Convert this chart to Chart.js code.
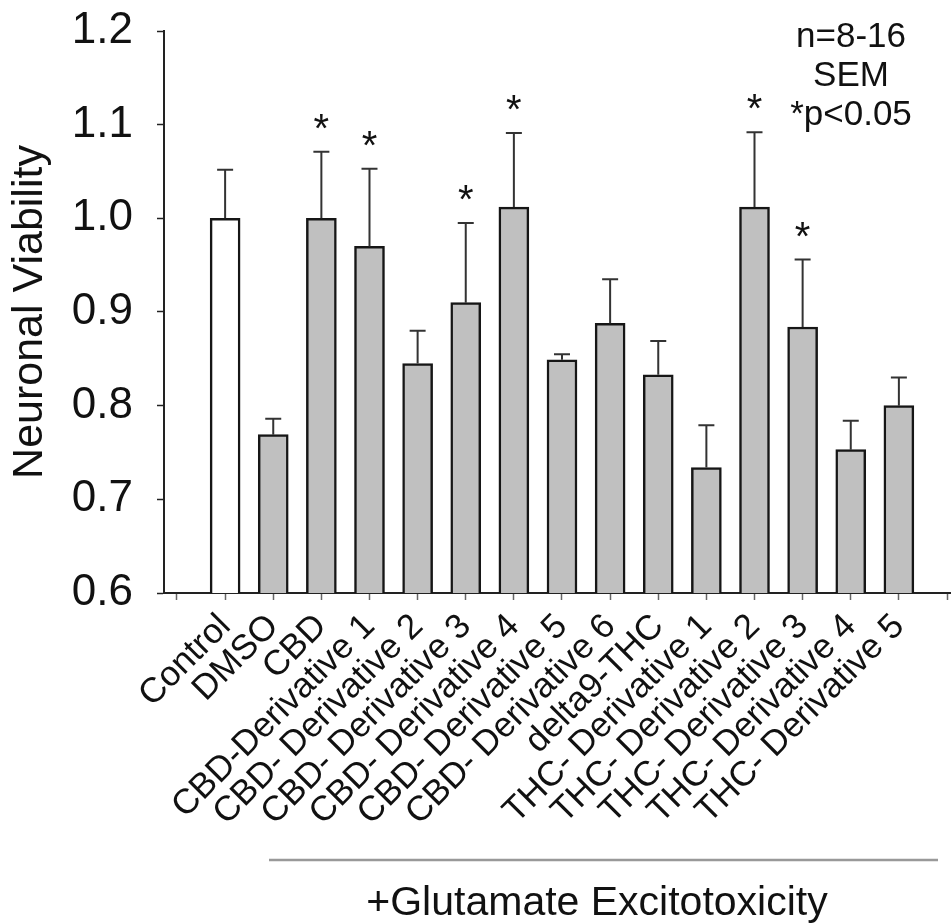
<!DOCTYPE html>
<html>
<head>
<meta charset="utf-8">
<script src="https://cdn.jsdelivr.net/npm/chart.js@4/dist/chart.umd.min.js"></script>
<style>
  body { margin: 0; background: #fff; }
  #wrap { width: 951px; height: 924px; position: relative; }
</style>
</head>
<body>
<div id="wrap"><canvas id="viability-chart"></canvas></div>
<script>
var CATEGORIES = [
  'Control', 'DMSO', 'CBD', 'CBD-Derivative 1', 'CBD- Derivative 2',
  'CBD- Derivative 3', 'CBD- Derivative 4', 'CBD- Derivative 5',
  'CBD- Derivative 6', 'delta9-THC', 'THC- Derivative 1',
  'THC- Derivative 2', 'THC- Derivative 3', 'THC- Derivative 4',
  'THC- Derivative 5',
];
var VIABILITY = [1.000, 0.769, 1.000, 0.970, 0.845, 0.910, 1.012, 0.849, 0.888, 0.833, 0.734, 1.012, 0.884, 0.753, 0.800];
var SEM = [0.052, 0.017, 0.071, 0.083, 0.035, 0.085, 0.079, 0.006, 0.047, 0.036, 0.045, 0.080, 0.072, 0.031, 0.030];
var SIGNIFICANT = [false, false, true, true, false, true, true, false, false, false, false, true, true, false, false];
var Y_TICKS = [0.6, 0.7, 0.8, 0.9, 1.0, 1.1, 1.2];
var NOTES = ['n=8-16', 'SEM', '*p<0.05'];
var GROUP_LABEL = '+Glutamate Excitotoxicity';

var FONT = '"Liberation Sans", Arial, Helvetica, sans-serif';

// upper SEM whiskers + significance stars
var errorBars = {
  id: 'errorBars',
  afterDatasetsDraw: function (chart) {
    var ctx = chart.ctx;
    var xs = chart.scales.x, ys = chart.scales.y;
    ctx.save();
    ctx.strokeStyle = '#333';
    ctx.lineWidth = 2;
    ctx.fillStyle = '#111';
    ctx.font = '40px ' + FONT;
    ctx.textAlign = 'center';
    ctx.textBaseline = 'alphabetic';
    VIABILITY.forEach(function (v, i) {
      var x = xs.getPixelForValue(i + 1);
      var y0 = ys.getPixelForValue(v);
      var y1 = ys.getPixelForValue(v + SEM[i]);
      ctx.beginPath();
      ctx.moveTo(x, y0);
      ctx.lineTo(x, y1);
      ctx.moveTo(x - 8, y1);
      ctx.lineTo(x + 8, y1);
      ctx.stroke();
      if (SIGNIFICANT[i]) ctx.fillText('*', x, y1 - 10);
    });
    ctx.restore();
  },
};

var annotations = {
  id: 'annotations',
  afterDraw: function (chart) {
    var ctx = chart.ctx;
    ctx.save();
    ctx.fillStyle = '#111';
    ctx.textAlign = 'center';
    ctx.textBaseline = 'alphabetic';
    ctx.font = '35px ' + FONT;
    NOTES.forEach(function (t, i) {
      ctx.fillText(t, 851, 47 + i * 39);
    });
    ctx.strokeStyle = '#999';
    ctx.lineWidth = 2.5;
    ctx.beginPath();
    ctx.moveTo(269, 860);
    ctx.lineTo(938, 860);
    ctx.stroke();
    ctx.font = '41px ' + FONT;
    ctx.fillText(GROUP_LABEL, 597, 915);
    ctx.restore();
  },
};

var ctx = document.getElementById('viability-chart').getContext('2d');
new Chart(ctx, {
  type: 'bar',
  data: {
    datasets: [{
      data: VIABILITY.map(function (v, i) { return { x: i + 1, y: v }; }),
      backgroundColor: function (c) { return c.dataIndex === 0 ? '#ffffff' : '#c0c0c0'; },
      borderColor: '#161616',
      borderWidth: 2.5,
      borderSkipped: false,
      barThickness: 30,
    }],
  },
  options: {
    responsive: true,
    maintainAspectRatio: false,
    animation: false,
    layout: { padding: { top: 31, right: 0, left: 0, bottom: 0 } },
    plugins: {
      legend: { display: false },
      tooltip: { enabled: false },
    },
    scales: {
      x: {
        type: 'linear',
        offset: false,
        min: -0.27,
        max: 16.083,
        afterBuildTicks: function (scale) {
          var t = [];
          for (var i = 0; i <= CATEGORIES.length + 1; i++) t.push({ value: i });
          scale.ticks = t;
        },
        afterFit: function (scale) {
          scale.height = 331;
          scale.paddingLeft = 0;
          scale.paddingRight = 0;
        },
        border: { color: '#222', width: 2 },
        grid: { offset: false, drawOnChartArea: false, color: '#666', tickLength: 7, tickWidth: 1.5 },
        ticks: {
          autoSkip: false,
          minRotation: 45,
          maxRotation: 45,
          padding: 6,
          color: '#111',
          font: { family: FONT, size: 35 },
          callback: function (v) { return CATEGORIES[v - 1] || ''; },
        },
      },
      y: {
        min: 0.6,
        max: 1.2,
        afterBuildTicks: function (scale) {
          scale.ticks = Y_TICKS.map(function (v) { return { value: v }; });
        },
        afterFit: function (scale) {
          scale.width = 164;
          scale.paddingTop = 0;
          scale.paddingBottom = 0;
        },
        border: { color: '#222', width: 2 },
        grid: { drawOnChartArea: false, color: '#222', tickLength: 7, tickWidth: 1.5 },
        ticks: {
          padding: 24,
          color: '#111',
          font: { family: FONT, size: 44 },
          callback: function (v) { return v.toFixed(1); },
        },
        title: {
          display: true,
          text: 'Neuronal Viability',
          color: '#111',
          font: { family: FONT, size: 43 },
          padding: { top: 4, bottom: 0 },
        },
      },
    },
  },
  plugins: [errorBars, annotations],
});
</script>
</body>
</html>
